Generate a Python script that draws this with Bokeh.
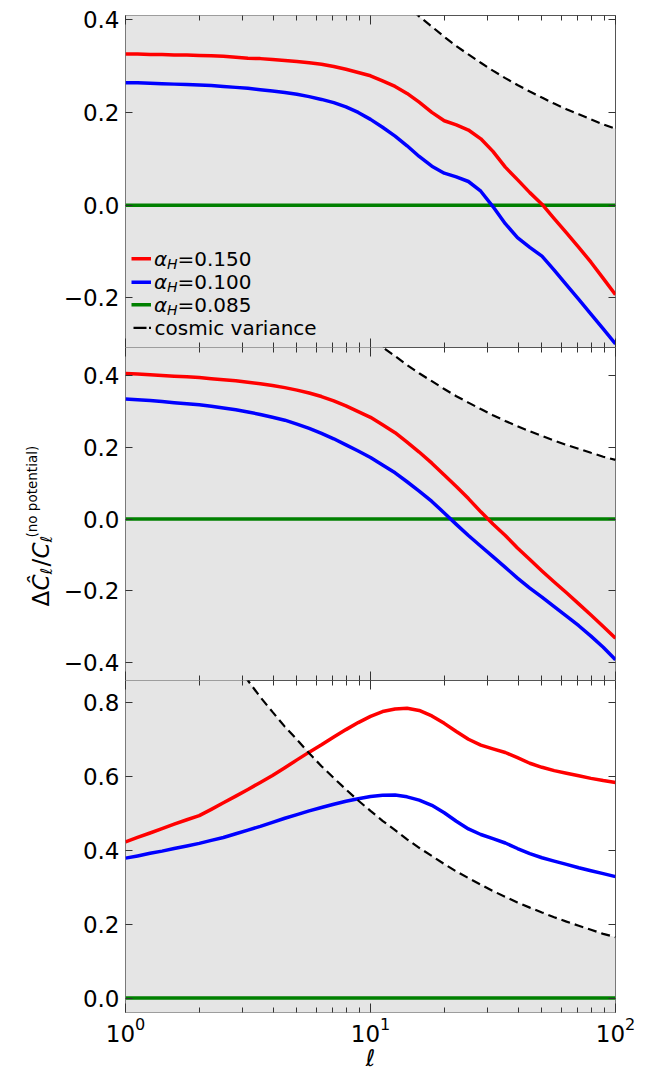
import math
from bokeh.plotting import figure
from bokeh.layouts import column, row
from bokeh.models import (LogAxis, LinearAxis, FixedTicker, CustomJSTickFormatter,
                          LogTickFormatter, Label, Range1d)
from bokeh.embed import file_html
from bokeh.resources import INLINE

# ---------------- data ----------------
ell = [1, 1.12, 1.26, 1.41, 1.58, 1.78, 2, 2.24, 2.51, 2.82, 3.16, 3.55, 3.98, 4.47,
       5.01, 5.62, 6.31, 7.08, 7.94, 8.91, 10, 11.2, 12.6, 14.1, 15.8, 17.8, 20, 22.4,
       25.1, 28.2, 31.6, 35.5, 39.8, 44.7, 50.1, 56.2, 63.1, 70.8, 79.4, 89.1, 100]

cosmic_variance = [1.34, 1.29, 1.24, 1.19, 1.14, 1.09, 1.04, 0.99, 0.95, 0.90, 0.86,
                   0.815, 0.775, 0.735, 0.70, 0.663, 0.628, 0.596, 0.565, 0.535, 0.507,
                   0.48, 0.455, 0.43, 0.407, 0.385, 0.363, 0.343, 0.325, 0.307, 0.29,
                   0.274, 0.259, 0.245, 0.232, 0.219, 0.207, 0.196, 0.185, 0.174, 0.165]

top_red = [0.326, 0.326, 0.325, 0.325, 0.324, 0.324, 0.323, 0.322, 0.321, 0.319, 0.317,
           0.316, 0.314, 0.312, 0.310, 0.307, 0.304, 0.299, 0.293, 0.286, 0.279,
           0.268, 0.256, 0.241, 0.222, 0.200, 0.182, 0.173, 0.162, 0.143, 0.116,
           0.082, 0.055, 0.027, 0.002, -0.029, -0.060, -0.091, -0.123, -0.158, -0.193]
top_blue = [0.264, 0.264, 0.263, 0.262, 0.261, 0.260, 0.259, 0.258, 0.256, 0.254, 0.252,
            0.249, 0.246, 0.243, 0.239, 0.234, 0.228, 0.221, 0.212, 0.200, 0.185,
            0.168, 0.149, 0.128, 0.105, 0.084, 0.069, 0.061, 0.051, 0.030, -0.003,
            -0.040, -0.070, -0.091, -0.110, -0.140, -0.172, -0.203, -0.235, -0.267, -0.299]

mid_red = [0.4065, 0.405, 0.403, 0.401, 0.399, 0.397, 0.395, 0.392, 0.389, 0.386, 0.382,
           0.378, 0.373, 0.367, 0.360, 0.352, 0.342, 0.330, 0.316, 0.300, 0.284,
           0.263, 0.241, 0.215, 0.187, 0.156, 0.123, 0.091, 0.057, 0.020, -0.014,
           -0.046, -0.081, -0.113, -0.145, -0.176, -0.206, -0.237, -0.268, -0.300, -0.333]
mid_blue = [0.335, 0.333, 0.331, 0.328, 0.325, 0.322, 0.319, 0.315, 0.310, 0.305, 0.299,
            0.292, 0.284, 0.276, 0.265, 0.253, 0.239, 0.224, 0.207, 0.190, 0.172,
            0.151, 0.129, 0.104, 0.078, 0.049, 0.017, -0.015, -0.046, -0.076, -0.105,
            -0.135, -0.165, -0.193, -0.218, -0.245, -0.271, -0.298, -0.327, -0.358, -0.393]

bot_red = [0.423, 0.435, 0.447, 0.459, 0.471, 0.483, 0.494, 0.511, 0.529, 0.547, 0.565,
           0.584, 0.603, 0.624, 0.645, 0.666, 0.686, 0.707, 0.727, 0.746, 0.763,
           0.776, 0.783, 0.785, 0.779, 0.764, 0.744, 0.722, 0.701, 0.685, 0.675,
           0.665, 0.651, 0.636, 0.625, 0.616, 0.609, 0.602, 0.595, 0.589, 0.584]
bot_blue = [0.379, 0.385, 0.392, 0.398, 0.405, 0.412, 0.419, 0.427, 0.435, 0.445, 0.455,
            0.465, 0.476, 0.487, 0.497, 0.507, 0.516, 0.525, 0.533, 0.540, 0.546,
            0.549, 0.550, 0.545, 0.536, 0.522, 0.502, 0.479, 0.458, 0.443, 0.432,
            0.420, 0.405, 0.391, 0.380, 0.371, 0.362, 0.353, 0.345, 0.337, 0.329]

green_zero = [0.0] * len(ell)

x_major_ticks = [1, 10, 100]
x_minor_ticks = [2, 3, 4, 5, 6, 7, 8, 9, 20, 30, 40, 50, 60, 70, 80, 90]
top_y_ticks = [-0.2, 0.0, 0.2, 0.4]
mid_y_ticks = [-0.4, -0.2, 0.0, 0.2, 0.4]
bot_y_ticks = [0.0, 0.2, 0.4, 0.6, 0.8]

alpha_values = ["0.150", "0.100", "0.085"]
series_colors = ["#ff0000", "#0000ff", "#008000"]
cv_label = "cosmic variance"
x_label = "\u2113"

# ---------------- layout / style ----------------
FONT = "DejaVu Sans"
X_RANGE = (1, 100)
TOP_RANGE = (-0.307, 0.409)
MID_RANGE = (-0.451, 0.479)
BOT_RANGE = (-0.039, 0.860)
LABEL_W = 60             # width of the strip holding the rotated y label
FRAME_W = 490
FRAME_LEFT = 125         # page x of the frames' left edge
BORDER_L = FRAME_LEFT - LABEL_W
BORDER_R = 30
SHADE = "#e5e5e5"
SPINE = "#555555"
TICK_FONT = "23px"

y_fmt = CustomJSTickFormatter(code="return (tick < -1e-9 ? '\u2212' : '') + Math.abs(tick).toFixed(1);")


def blank_fmt():
    return CustomJSTickFormatter(code="return '';")


def make_x_axis(with_labels):
    ax = LogAxis(ticker=FixedTicker(ticks=x_major_ticks, minor_ticks=x_minor_ticks))
    ax.major_tick_in = 9
    ax.major_tick_out = 0
    ax.minor_tick_in = 5
    ax.minor_tick_out = 0
    ax.major_tick_line_color = "#333333"
    ax.minor_tick_line_color = "#333333"
    ax.axis_line_color = None
    if with_labels:
        ax.formatter = LogTickFormatter()
        ax.major_label_text_font = FONT
        ax.major_label_text_font_size = TICK_FONT
        ax.major_label_text_color = "black"
        ax.major_label_standoff = 4
        ax.axis_label = x_label
        ax.axis_label_text_font = FONT
        ax.axis_label_text_font_size = "23px"
        ax.axis_label_text_font_style = "italic"
        ax.axis_label_text_color = "black"
        ax.axis_label_standoff = 0
    else:
        ax.formatter = blank_fmt()
        ax.major_label_text_font_size = "0px"
        ax.major_label_standoff = 0
    return ax


def make_y_axis(ticks, with_labels):
    ax = LinearAxis(ticker=FixedTicker(ticks=ticks))
    ax.major_tick_in = 7
    ax.major_tick_out = 0
    ax.minor_tick_line_color = None
    ax.major_tick_line_color = "#333333"
    ax.axis_line_color = None
    if with_labels:
        ax.formatter = y_fmt
        ax.major_label_text_font = FONT
        ax.major_label_text_font_size = TICK_FONT
        ax.major_label_text_color = "black"
        ax.major_label_standoff = 6
    else:
        ax.formatter = blank_fmt()
        ax.major_label_text_font_size = "0px"
        ax.major_label_standoff = 0
    return ax


def make_panel(yr, yticks, frame_h, top_border, bottom_labels):
    p = figure(x_axis_type="log", x_range=Range1d(*X_RANGE), y_range=Range1d(*yr),
               frame_width=FRAME_W, frame_height=frame_h,
               output_backend="svg", toolbar_location=None,
               x_axis_location=None, y_axis_location=None)
    p.min_border = 0
    p.min_border_left = BORDER_L
    p.min_border_right = BORDER_R
    p.min_border_top = top_border
    p.min_border_bottom = 0
    p.outline_line_color = SPINE
    p.outline_line_width = 1
    p.background_fill_color = "white"
    p.border_fill_color = "white"
    p.add_layout(make_x_axis(bottom_labels), "below")
    p.add_layout(make_x_axis(False), "above")
    p.add_layout(make_y_axis(yticks, True), "left")
    p.add_layout(make_y_axis(yticks, False), "right")
    p.grid.visible = False
    return p


def fx(page_x):
    """page x pixel -> data x on the log axis"""
    return 10 ** ((page_x - FRAME_LEFT) / FRAME_W * 2)


def fy(page_y, yr, top, h):
    return yr[1] - (page_y - top) / h * (yr[1] - yr[0])


def draw_curves(p, red, blue):
    p.varea(x=ell, y1=-2.0, y2=cosmic_variance, fill_color=SHADE)
    p.line(ell, green_zero, line_color=series_colors[2], line_width=3.5)
    p.line(ell, red, line_color=series_colors[0], line_width=3.5, line_join="round")
    p.line(ell, blue, line_color=series_colors[1], line_width=3.5, line_join="round")
    p.line(ell, cosmic_variance, line_color="black", line_width=2.2, line_dash="9 5")


p1 = make_panel(TOP_RANGE, top_y_ticks, 332, 15, False)
p2 = make_panel(MID_RANGE, mid_y_ticks, 333, 0, False)
p3 = make_panel(BOT_RANGE, bot_y_ticks, 332, 0, True)

draw_curves(p1, top_red, top_blue)
draw_curves(p2, mid_red, mid_blue)
draw_curves(p3, bot_red, bot_blue)

# ---------------- legend (top panel) ----------------
T_TOP, T_H = 15, 332
rows = [258.3, 281.7, 304.3, 327.3]
for i, (val, col) in enumerate(zip(alpha_values, series_colors)):
    yy = fy(rows[i], TOP_RANGE, T_TOP, T_H)
    p1.line([fx(131), fx(150.5)], [yy, yy], line_color=col, line_width=3.5)
    p1.add_layout(Label(x=fx(153.5), y=yy, text="\u03b1", text_font=FONT, text_font_size="20px",
                        text_font_style="italic", text_baseline="middle", text_align="left",
                        text_color="black"))
    p1.add_layout(Label(x=fx(166.5), y=fy(rows[i] + 5, TOP_RANGE, T_TOP, T_H), text="H",
                        text_font=FONT, text_font_size="14px", text_font_style="italic",
                        text_baseline="middle", text_align="left", text_color="black"))
    p1.add_layout(Label(x=fx(177), y=yy, text="=" + val, text_font=FONT, text_font_size="20px",
                        text_baseline="middle", text_align="left", text_color="black"))
ycv = fy(rows[3], TOP_RANGE, T_TOP, T_H)
p1.line([fx(133), fx(146)], [ycv, ycv], line_color="black", line_width=2.2)
p1.line([fx(148.5), fx(150.5)], [ycv, ycv], line_color="black", line_width=2.2)
p1.add_layout(Label(x=fx(154), y=ycv, text=cv_label, text_font=FONT, text_font_size="20px",
                    text_baseline="middle", text_align="left", text_color="black"))

# ---------------- y label strip (page pixel coordinates) ----------------
STRIP_H = 700
strip = figure(x_range=Range1d(0, LABEL_W), y_range=Range1d(STRIP_H, 0),
               frame_width=LABEL_W, frame_height=STRIP_H,
               output_backend="svg", toolbar_location=None,
               x_axis_location=None, y_axis_location=None)
strip.min_border = 0
strip.outline_line_color = None
strip.grid.visible = False
strip.background_fill_color = "white"
strip.border_fill_color = "white"

ANG = math.pi / 2
ylabel_parts = [
    ("\u0394", 40, 606, "23px", "normal"),
    ("\u0108", 40, 590, "23px", "italic"),
    ("\u2113", 46, 574, "16px", "italic"),
    ("/", 40, 566, "23px", "normal"),
    ("C", 40, 558, "23px", "italic"),
    ("\u2113", 46, 542, "16px", "italic"),
    ("(no potential)", 31, 537, "13.5px", "normal"),
]
for txt, px, py, fs, st in ylabel_parts:
    strip.add_layout(Label(x=px, y=py, text=txt, angle=ANG,
                           text_font=FONT, text_font_size=fs, text_font_style=st,
                           text_align="left", text_baseline="alphabetic", text_color="black"))

layout = row(strip, column(p1, p2, p3, spacing=0), spacing=0)

with open("out.html", "w", encoding="utf-8") as f:
    f.write(file_html(layout, INLINE))
